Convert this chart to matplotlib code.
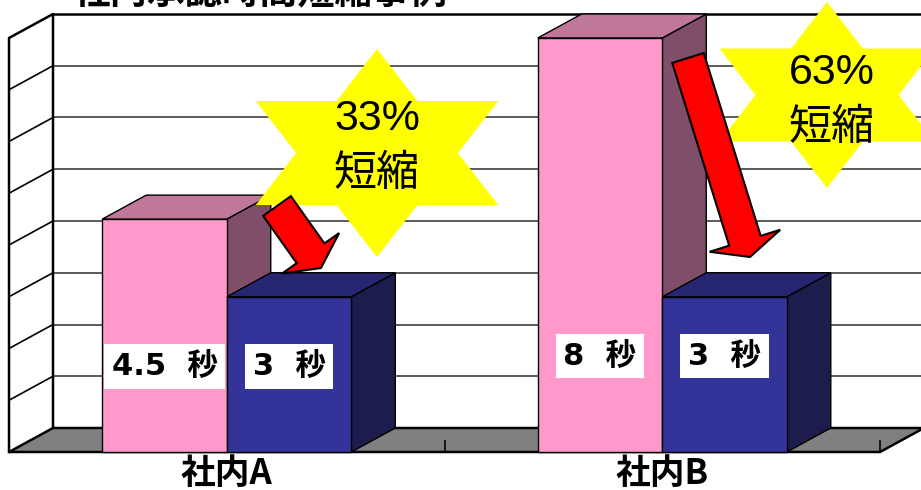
import numpy as np
import matplotlib.pyplot as plt
from matplotlib.patches import Polygon, Rectangle

# データ
categories = ['社内A', '社内B']
before = [4.5, 8]
after = [3, 3]
reduction = ['33%', '63%']
title = '社内承認時間短縮事例'

JP = ['Liberation Sans', 'Noto Sans CJK JP']
JP_BOLD = ['DejaVu Sans', 'Noto Sans CJK JP']

# 3D風の奥行き (px -> データ単位)
PX, PY = 435.5, 51.75
dx, dy = 44 / PX, 24 / PY
ymax = 8
bw = 0.286

fig = plt.figure(figsize=(9.21, 4.90), dpi=100)
ax = fig.add_axes([0, 0, 1, 1])
ax.set_xlim(-9 / PX, 912 / PX)
ax.set_ylim(-38 / PY, 452 / PY)
ax.axis('off')

xr = 2.3
# 奥の壁と目盛線
for v in range(1, ymax):
    ax.plot([dx, xr], [v + dy, v + dy], color='#404040', lw=1.2, zorder=2)
    ax.plot([0, dx], [v, v + dy], color='black', lw=1.2, zorder=2)
ax.plot([dx, xr], [ymax + dy] * 2, color='black', lw=1.8, zorder=2)
ax.plot([0, 0, dx, dx], [0, ymax, ymax + dy, dy], color='black', lw=1.8, zorder=2)

# 床
ax.add_patch(Polygon([(0, 0), (2, 0), (2 + dx, dy), (dx, dy)], closed=True,
                     fc='#808080', ec='black', lw=1.8, zorder=2))
for t in (1, 2):
    ax.plot([t, t], [0, 0.22], color='black', lw=1.2, zorder=2)


def bar3d(x0, h, front, top, side, z):
    x1 = x0 + bw
    ax.add_patch(Polygon([(x1, 0), (x1 + dx, dy), (x1 + dx, h + dy), (x1, h)],
                         fc=side, ec='black', lw=1, zorder=z))
    ax.add_patch(Polygon([(x0, h), (x1, h), (x1 + dx, h + dy), (x0 + dx, h + dy)],
                         fc=top, ec='black', lw=1, zorder=z))
    ax.add_patch(Rectangle((x0, 0), bw, h, fc=front, ec='black', lw=1, zorder=z))


centers = np.arange(len(categories)) + 0.5
label_y = [1.65, 1.85]
z = 3
for i, c in enumerate(centers):
    bar3d(c - bw, before[i], '#FF99CC', '#C0789A', '#7F4E68', z)
    bar3d(c, after[i], '#333399', '#262673', '#1C1C4D', z + 0.1)
    z += 0.2
    for x0, v in ((c - bw, before[i]), (c, after[i])):
        ax.text(x0 + bw / 2, label_y[i], f'{v:g}  秒', ha='center', va='center',
                fontsize=22, fontweight='bold', family=JP_BOLD, zorder=6,
                bbox=dict(boxstyle='square,pad=0.25', fc='white', ec='none'))
    ax.text(c, -0.42, categories[i], ha='center', va='center', fontsize=25,
            fontweight='bold', family=['Noto Sans CJK JP'], zorder=6)

# 図形（星と矢印）はピクセル座標で重ねる
ov = fig.add_axes([0, 0, 1, 1], zorder=5)
ov.set_xlim(0, 921)
ov.set_ylim(490, 0)
ov.axis('off')
ov.patch.set_alpha(0)


def star(cx, cy, rx, ry):
    pts = []
    for k in range(12):
        ang = np.radians(90 + 30 * k)
        r = 1 if k % 2 == 0 else 1 / np.sqrt(3)
        pts.append((cx + rx * r * np.cos(ang), cy - ry * r * np.sin(ang)))
    ov.add_patch(Polygon(pts, closed=True, fc='#FFFF00', ec='none', zorder=1))


def block_arrow(tail, tip, w, hw, hl):
    t = np.array(tail, float)
    p = np.array(tip, float)
    u = (p - t) / np.linalg.norm(p - t)
    n = np.array([-u[1], u[0]])
    b = p - u * hl
    pts = [t + n * w / 2, b + n * w / 2, b + n * hw / 2, p,
           b - n * hw / 2, b - n * w / 2, t - n * w / 2]
    ov.add_patch(Polygon(pts, closed=True, fc='#FF0000', ec='black', lw=1.5, zorder=2))


star(377, 153, 140, 104)
star(827, 95, 124, 93)
block_arrow((277, 206), (321, 268), 34, 70, 18)
block_arrow((688, 58), (750, 257), 33, 74, 17)

for (cx, cy), txt in zip([(377, 119), (832, 73)], reduction):
    ov.text(cx, cy, txt, ha='center', va='center', fontsize=31, family=JP, zorder=3)
    ov.text(cx, cy + 56, '短縮', ha='center', va='center', fontsize=31, family=JP, zorder=3)

# タイトル（元画像でも上端で切れている）
ov.text(260, 3, title, ha='center', va='baseline', fontsize=27, fontweight='bold',
        family=['Noto Sans CJK JP'], zorder=3)

fig.savefig('out.png', dpi=100)
